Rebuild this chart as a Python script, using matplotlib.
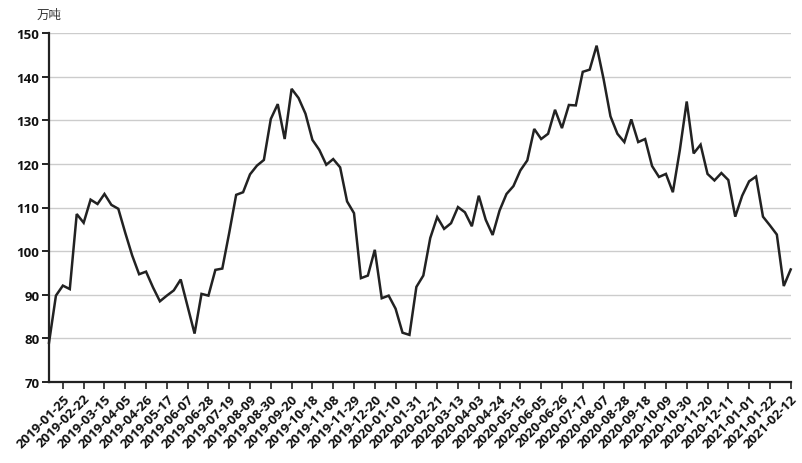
import matplotlib
matplotlib.use("Agg")
import matplotlib.pyplot as plt
from matplotlib import font_manager

avail = {f.name for f in font_manager.fontManager.ttflist if f.weight in (600, 700, 'bold', 'semibold')}
bold_family = 'Open Sans' if 'Open Sans' in avail else ('Lato' if 'Lato' in avail else 'DejaVu Sans')
plt.rcParams['font.family'] = [bold_family, 'Noto Sans CJK SC', 'DejaVu Sans']

values = [79.0, 89.8, 92.1, 91.3, 108.5, 106.5, 111.8, 110.8, 113.1, 110.6,
          109.7, 104.2, 99.0, 94.7, 95.3, 91.7, 88.5, 89.8, 91.0, 93.5,
          87.3, 81.1, 90.2, 89.8, 95.7, 96.0, 104.2, 112.9, 113.5, 117.6,
          119.6, 120.9, 130.3, 133.7, 125.7, 137.2, 135.1, 131.5, 125.5, 123.2,
          119.8, 121.1, 119.2, 111.4, 108.7, 93.8, 94.4, 100.3, 89.2, 89.8,
          86.8, 81.3, 80.8, 91.8, 94.4, 103.0, 107.8, 105.1, 106.4, 110.1,
          108.9, 105.7, 112.7, 107.2, 103.7, 109.3, 113.1, 114.9, 118.5, 120.8,
          128.0, 125.7, 126.9, 132.4, 128.2, 133.5, 133.4, 141.1, 141.6, 147.1,
          139.5, 130.9, 126.9, 125.0, 130.2, 125.0, 125.7, 119.5, 117.0, 117.7,
          113.5, 123.1, 134.3, 122.4, 124.4, 117.7, 116.2, 117.9, 116.3, 107.9,
          112.7, 116.0, 117.1, 107.9, 105.9, 103.8, 92.0, 95.8]

tick_labels = ['2019-01-25', '2019-02-22', '2019-03-15', '2019-04-05', '2019-04-26',
               '2019-05-17', '2019-06-07', '2019-06-28', '2019-07-19', '2019-08-09',
               '2019-08-30', '2019-09-20', '2019-10-18', '2019-11-08', '2019-11-29',
               '2019-12-20', '2020-01-10', '2020-01-31', '2020-02-21', '2020-03-13',
               '2020-04-03', '2020-04-24', '2020-05-15', '2020-06-05', '2020-06-26',
               '2020-07-17', '2020-08-07', '2020-08-28', '2020-09-18', '2020-10-09',
               '2020-10-30', '2020-11-20', '2020-12-11', '2021-01-01', '2021-01-22',
               '2021-02-12']
unit = '万吨'
y_ticks = [70, 80, 90, 100, 110, 120, 130, 140, 150]

n = len(values)
x = list(range(n))
tick_pos = list(range(n - 1 - 3 * (len(tick_labels) - 1), n, 3))

fig = plt.figure(figsize=(8.03, 4.64), dpi=100)
ax = fig.add_axes([49 / 803, 1 - 383 / 464, (790.7 - 49) / 803, (383 - 34) / 464])

ax.plot(x, values, color='#222222', linewidth=1.8, solid_joinstyle='miter', zorder=3, clip_on=False)

ax.set_xlim(0, n - 1)
ax.set_ylim(70, 150)
ax.set_yticks(y_ticks)
ax.set_yticklabels([str(v) for v in y_ticks], fontsize=9.5, fontweight='bold', color='#111111')
ax.set_xticks(tick_pos)
ax.set_xticklabels(tick_labels, rotation=45, ha='right', va='top', rotation_mode='anchor',
                   fontsize=9.5, fontweight='bold', color='#111111')

ax.grid(axis='y', color='#cccccc', linewidth=1)
ax.set_axisbelow(True)
for s in ['top', 'right']:
    ax.spines[s].set_visible(False)
for s in ['left', 'bottom']:
    ax.spines[s].set_color('#222222')
    ax.spines[s].set_linewidth(1.6)
ax.tick_params(axis='y', length=5, width=1.4, color='#222222', pad=2)
ax.tick_params(axis='x', length=5, width=1.2, color='#222222', pad=2)

fig.text(37 / 803, 1 - 15 / 464, unit, fontsize=9, color='#333333', va='center', ha='left',
         family=['Noto Sans CJK SC', 'DejaVu Sans'])

fig.savefig('out.png', dpi=100)
